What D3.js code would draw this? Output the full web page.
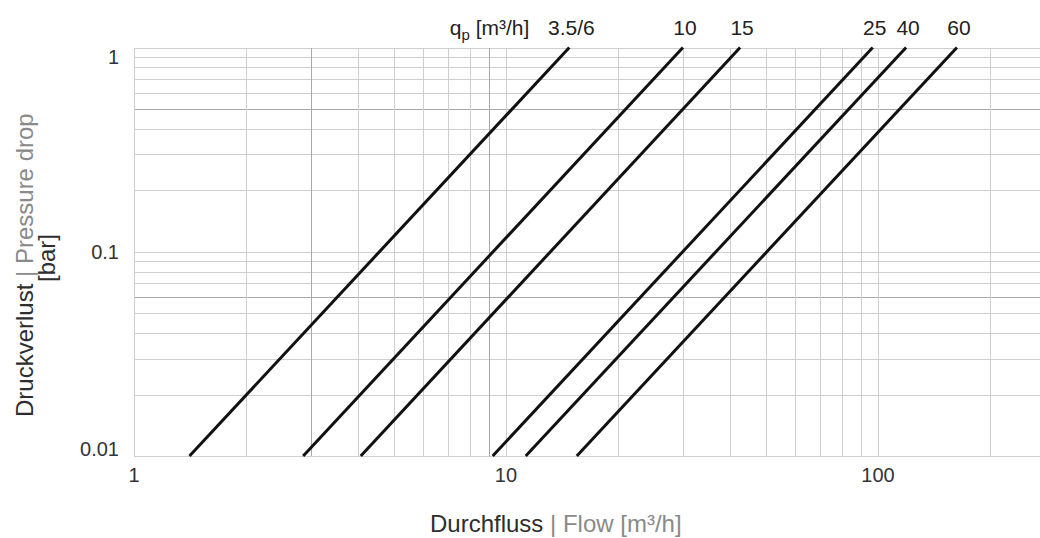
<!DOCTYPE html>
<html lang="de">
<head>
<meta charset="utf-8">
<title>Druckverlust</title>
<script src="https://d3js.org/d3.v7.min.js"></script>
<style>
  body { margin: 0; background: #fff; }
  svg { display: block; font-family: "Liberation Sans", Arial, sans-serif; }
  .grid line { stroke: #cfcfcf; stroke-width: 1; shape-rendering: crispEdges; }
  .grid line.dark { stroke: #a8a8a8; }
  .kurve { fill: none; stroke: #111; stroke-width: 3; }
  .tick { font-size: 20px; fill: #333; }
  .label { font-size: 21px; fill: #222; }
  .titel { font-size: 24px; fill: #2e2e2e; }
  .grau { fill: #8a8a8a; }
</style>
</head>
<body>
<div id="chart"></div>
<script>
"use strict"

var qpLabels = ["3.5/6", "10", "15", "25", "40", "60"];
var flowAt001 = [1.41, 2.85, 4.07, 9.21, 11.3, 15.5];
var flowAt1 = [14.8, 29.9, 42.6, 96.8, 119, 163];
var pressureEnds = [0.01, 1];

var xGrid = [1, 2, 3, 4, 5, 6, 7, 8, 9, 10, 20, 30, 40, 50, 60, 70, 80, 90, 100, 200];
var yGrid = [0.01, 0.02, 0.03, 0.04, 0.05, 0.06, 0.07, 0.08, 0.09,
             0.1, 0.2, 0.3, 0.4, 0.5, 0.6, 0.7, 0.8, 0.9, 1];
var xDark = [3, 9];
var yDark = [0.06, 0.5];
var xTickLabels = [1, 10, 100];
var yTickLabels = [1, 0.1, 0.01];

var breite = 1040, hoehe = 538;
var margin = {top: 47.5, right: 0, bottom: 82, left: 134};

var svg = d3.select("#chart").append("svg")
    .attr("width", breite)
    .attr("height", hoehe);

var x = d3.scaleLog()
    .domain([1, 272.6])
    .range([margin.left, breite - margin.right]);

var y = d3.scaleLog()
    .domain([0.01, 1])
    .range([hoehe - margin.bottom, margin.top]);

var grid = svg.append("g").attr("class", "grid");

grid.selectAll("line.h")
    .data(yGrid)
  .enter().append("line")
    .attr("class", function(d) { return yDark.indexOf(d) >= 0 ? "h dark" : "h"; })
    .attr("x1", x.range()[0])
    .attr("x2", x.range()[1])
    .attr("y1", function(d) { return Math.round(y(d)) + 0.5; })
    .attr("y2", function(d) { return Math.round(y(d)) + 0.5; });

grid.selectAll("line.v")
    .data(xGrid)
  .enter().append("line")
    .attr("class", function(d) { return xDark.indexOf(d) >= 0 ? "v dark" : "v"; })
    .attr("y1", y.range()[0])
    .attr("y2", y.range()[1])
    .attr("x1", function(d) { return Math.round(x(d)) + 0.5; })
    .attr("x2", function(d) { return Math.round(x(d)) + 0.5; });

// Kennlinien
var linie = d3.line()
    .x(function(d) { return x(d[0]); })
    .y(function(d) { return y(d[1]); });

svg.selectAll("path.kurve")
    .data(qpLabels.map(function(l, i) {
      return [[flowAt001[i], pressureEnds[0]], [flowAt1[i], pressureEnds[1]]];
    }))
  .enter().append("path")
    .attr("class", "kurve")
    .attr("d", linie);

// Beschriftung oben
svg.selectAll("text.label")
    .data(qpLabels)
  .enter().append("text")
    .attr("class", "label")
    .attr("text-anchor", "middle")
    .attr("x", function(d, i) { return x(flowAt1[i]) + 2; })
    .attr("y", 35)
    .text(function(d) { return d; });

var qp = svg.append("text")
    .attr("class", "label")
    .attr("text-anchor", "end")
    .attr("x", x(flowAt1[0]) - 40)
    .attr("y", 35);
qp.append("tspan").text("q");
qp.append("tspan").attr("font-size", 15).attr("dy", 5).text("p");
qp.append("tspan").attr("dy", -5).text(" [m³/h]");

// Achsenbeschriftung
svg.selectAll("text.xt")
    .data(xTickLabels)
  .enter().append("text")
    .attr("class", "tick xt")
    .attr("text-anchor", "middle")
    .attr("x", function(d) { return x(d); })
    .attr("y", y.range()[0] + 26)
    .text(function(d) { return d; });

svg.selectAll("text.yt")
    .data(yTickLabels)
  .enter().append("text")
    .attr("class", "tick yt")
    .attr("text-anchor", "end")
    .attr("x", margin.left - 15)
    .attr("y", function(d, i) {
      if (i === 0) return y(d) + 16;
      if (i === yTickLabels.length - 1) return y(d);
      return y(d) + 7;
    })
    .text(function(d) { return d; });

var xTitel = svg.append("text")
    .attr("class", "titel")
    .attr("x", 430)
    .attr("y", 532);
xTitel.append("tspan").text("Durchfluss ");
xTitel.append("tspan").attr("class", "grau").text("| Flow ");
xTitel.append("tspan").attr("class", "grau").text("[m³/h]");

var yTitel = svg.append("text")
    .attr("class", "titel")
    .attr("transform", "translate(33,417) rotate(-90)");
yTitel.append("tspan").text("Druckverlust ");
yTitel.append("tspan").attr("class", "grau").text("| Pressure drop");

svg.append("text")
    .attr("class", "titel")
    .attr("text-anchor", "middle")
    .attr("transform", "translate(55,258) rotate(-90)")
    .text("[bar]");
</script>
</body>
</html>
